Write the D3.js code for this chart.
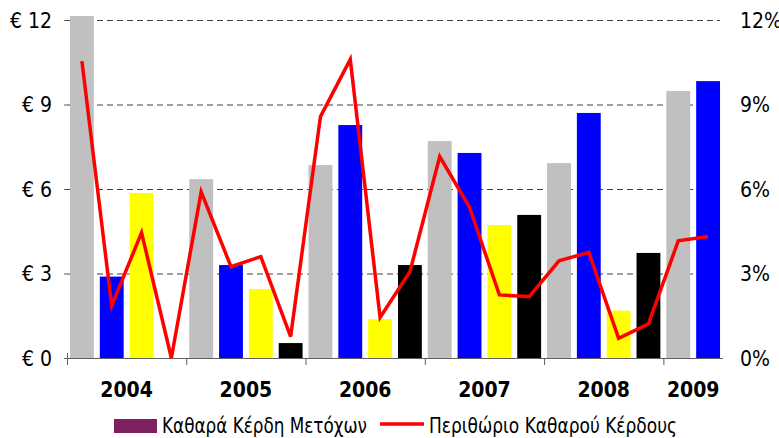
<!DOCTYPE html>
<html>
<head>
<meta charset="utf-8">
<script src="https://cdn.jsdelivr.net/npm/d3@7"></script>
<style>
  body { margin: 0; background: #fff; }
  svg { display: block; font-family: "DejaVu Sans Condensed", "DejaVu Sans", sans-serif; }
</style>
</head>
<body>
<svg id="chart" width="779" height="438"></svg>
<script>
// quarters 2004 Q1 .. 2009 Q2
const quarters = ["2004Q1","2004Q2","2004Q3","2004Q4",
                  "2005Q1","2005Q2","2005Q3","2005Q4",
                  "2006Q1","2006Q2","2006Q3","2006Q4",
                  "2007Q1","2007Q2","2007Q3","2007Q4",
                  "2008Q1","2008Q2","2008Q3","2008Q4",
                  "2009Q1","2009Q2"];
// net earnings per share (€)
const earnings = [12.14, 2.89, 5.86, 0,
                  6.35, 3.30, 2.45, 0.53,
                  6.85, 8.27, 1.38, 3.30,
                  7.70, 7.28, 4.72, 5.08,
                  6.92, 8.70, 1.68, 3.73,
                  9.48, 9.83];
// net profit margin (%)
const margin = [10.54, 1.86, 4.45, 0,
                5.90, 3.24, 3.60, 0.76,
                8.57, 10.60, 1.44, 3.06,
                7.15, 5.35, 2.24, 2.18,
                3.45, 3.75, 0.70, 1.21,
                4.16, 4.31];
const years = ["2004","2005","2006","2007","2008","2009"];
const leftTicks = [0, 3, 6, 9, 12];
const rightTicks = [0, 3, 6, 9, 12];
const legendLabels = ["Καθαρά Κέρδη Μετόχων", "Περιθώριο Καθαρού Κέρδους"];

const quarterColors = ["#c0c0c0", "#0000ff", "#ffff00", "#000000"];

const svg = d3.select("#chart");
const plotLeft = 67, plotRight = 723, plotTop = 20, plotBottom = 358;

const x = d3.scaleBand().domain(quarters).range([plotLeft, plotRight]).padding(0);
const step = x.step();
const yL = d3.scaleLinear().domain([0, 12]).range([plotBottom, plotTop]);
const yR = d3.scaleLinear().domain([0, 12]).range([plotBottom, plotTop]);

// dashed gridlines
svg.append("g").selectAll("line")
    .data(leftTicks.filter(d => d > 0))
    .enter().append("line")
    .attr("x1", plotLeft).attr("x2", plotRight - 3)
    .attr("y1", d => yL(d) + 0.5).attr("y2", d => yL(d) + 0.5)
    .attr("stroke", "#404040")
    .attr("stroke-width", 1)
    .attr("stroke-dasharray", "6,4");

// bars
svg.append("g").selectAll("rect")
    .data(earnings)
    .enter().append("rect")
    .attr("x", (d, i) => x(quarters[i]) + step * 0.1)
    .attr("width", step * 0.8)
    .attr("y", d => yL(d))
    .attr("height", d => plotBottom - yL(d))
    .attr("fill", (d, i) => quarterColors[i % 4]);

// bottom axis line
svg.append("line")
    .attr("x1", plotLeft).attr("x2", plotRight)
    .attr("y1", plotBottom + 0.5).attr("y2", plotBottom + 0.5)
    .attr("stroke", "#606060").attr("stroke-width", 1);

// left tick marks
svg.append("g").selectAll("line")
    .data(leftTicks)
    .enter().append("line")
    .attr("x1", plotLeft - 3).attr("x2", plotLeft)
    .attr("y1", d => yL(d) + 0.5).attr("y2", d => yL(d) + 0.5)
    .attr("stroke", "#606060");

// year boundary ticks
const yearStarts = years.map(yr => quarters.findIndex(q => q.startsWith(yr)));
svg.append("g").selectAll("line")
    .data(yearStarts)
    .enter().append("line")
    .attr("x1", i => x(quarters[i]) + 0.5).attr("x2", i => x(quarters[i]) + 0.5)
    .attr("y1", (i, k) => k === 0 ? plotBottom - 5 : plotBottom)
    .attr("y2", plotBottom + 7)
    .attr("stroke", "#606060");

// year labels
svg.append("g").selectAll("text")
    .data(years)
    .enter().append("text")
    .attr("x", yr => {
        const qs = quarters.filter(q => q.startsWith(yr));
        return x(qs[0]) + (qs.length / 2 - 0.5) * step + step / 2;
    })
    .attr("y", 397)
    .attr("text-anchor", "middle")
    .attr("font-size", 21)
    .attr("font-weight", "bold")
    .attr("fill", "#000")
    .text(d => d);

// left axis labels
svg.append("g").selectAll("text")
    .data(leftTicks)
    .enter().append("text")
    .attr("x", 52)
    .attr("y", d => yL(d))
    .attr("dy", "0.37em")
    .attr("text-anchor", "end")
    .attr("font-size", 21)
    .attr("fill", "#000")
    .text(d => "€ " + d);

// right axis labels
svg.append("g").selectAll("text")
    .data(rightTicks)
    .enter().append("text")
    .attr("x", 740)
    .attr("y", d => yR(d))
    .attr("dy", "0.37em")
    .attr("font-size", 21)
    .attr("fill", "#000")
    .text(d => d + "%");

// margin line
const line = d3.line()
    .x((d, i) => x(quarters[i]) + step / 2)
    .y(d => yR(d));

svg.append("path")
    .datum(margin)
    .attr("d", line)
    .attr("fill", "none")
    .attr("stroke", "#ff0000")
    .attr("stroke-width", 3.5)
    .attr("stroke-linejoin", "miter");

// legend
const lg = svg.append("g");
lg.append("rect")
    .attr("x", 114).attr("y", 419).attr("width", 43).attr("height", 14)
    .attr("fill", "#802060");
lg.append("text")
    .attr("x", 162).attr("y", 433)
    .attr("font-size", 21).attr("fill", "#000")
    .attr("textLength", 205).attr("lengthAdjust", "spacingAndGlyphs")
    .text(legendLabels[0]);
lg.append("line")
    .attr("x1", 380).attr("x2", 424).attr("y1", 424).attr("y2", 424)
    .attr("stroke", "#ff0000").attr("stroke-width", 3.5);
lg.append("text")
    .attr("x", 429).attr("y", 433)
    .attr("font-size", 21).attr("fill", "#000")
    .attr("textLength", 248).attr("lengthAdjust", "spacingAndGlyphs")
    .text(legendLabels[1]);
</script>
</body>
</html>
